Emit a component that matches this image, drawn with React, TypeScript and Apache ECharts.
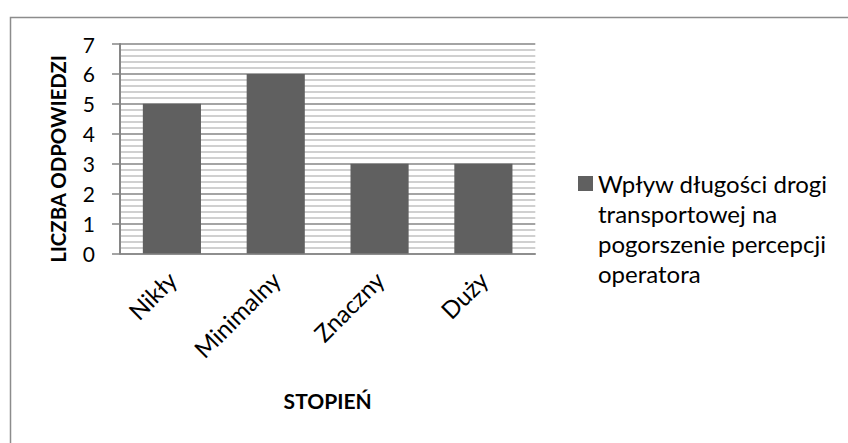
import React, { useEffect, useRef } from "react";
import * as echarts from "echarts";

const categories = ["Nikły", "Minimalny", "Znaczny", "Duży"];
const values = [5, 6, 3, 3];
const yTicks = [0, 1, 2, 3, 4, 5, 6, 7];
const seriesName = "Wpływ długości drogi transportowej na pogorszenie percepcji operatora";
const legendLines = ["Wpływ długości drogi", "transportowej na", "pogorszenie percepcji", "operatora"];
const yTitle = "LICZBA ODPOWIEDZI";
const xTitle = "STOPIEŃ";

const FONT = "Lato";

export default function App() {
  const ref = useRef<HTMLDivElement>(null);
  useEffect(() => {
    if (!ref.current) return;
    const chart = echarts.init(ref.current, undefined, { renderer: "svg" });
    chart.setOption({
      animation: false,
      backgroundColor: "#ffffff",
      textStyle: { fontFamily: FONT },
      grid: { left: 120, top: 44, right: 312.7, bottom: 189.5, containLabel: false },
      graphic: [
        {
          type: "rect",
          left: 8,
          top: 15,
          shape: { width: 860, height: 460 },
          style: { fill: "none", stroke: "#8c8c8c", lineWidth: 1.5 },
          silent: true,
        },
        {
          type: "text",
          x: 57.5,
          y: 159,
          rotation: Math.PI / 2,
          style: {
            text: yTitle,
            fontFamily: FONT,
            fontSize: 20.4,
            fontWeight: "bold",
            fill: "#000",
            align: "center",
            verticalAlign: "middle",
          },
          silent: true,
        },
      ],
      legend: {
        show: true,
        orient: "vertical",
        left: 573,
        top: 73.5,
        itemWidth: 15,
        itemHeight: 15,
        icon: "rect",
        formatter: () => "\n\n\n" + legendLines.join("\n"),
        textStyle: { fontFamily: FONT, fontSize: 24, color: "#000", lineHeight: 30 },
        itemGap: 0,
      },
      xAxis: {
        type: "category",
        data: categories,
        name: xTitle,
        nameLocation: "middle",
        nameGap: 136,
        nameTextStyle: { fontFamily: FONT, fontSize: 21, fontWeight: "bold", color: "#000" },
        axisLine: { show: true, lineStyle: { color: "#868686", width: 1.5 } },
        axisTick: { show: false },
        axisLabel: { rotate: 45, fontSize: 24, color: "#000", margin: 22, fontFamily: FONT },
        splitLine: { show: false },
      },
      yAxis: {
        type: "value",
        min: yTicks[0],
        max: yTicks[yTicks.length - 1],
        interval: 1,
        axisLine: { show: true, lineStyle: { color: "#868686", width: 2 } },
        axisTick: { show: true, inside: false, length: 8, lineStyle: { color: "#868686", width: 1.5 } },
        axisLabel: { fontSize: 21, color: "#000", margin: 25, fontFamily: FONT },
        splitLine: { show: true, lineStyle: { color: "#868686", width: 1.5 } },
        minorTick: { show: false, splitNumber: 5 },
        minorSplitLine: { show: true, lineStyle: { color: "#c0c0c0", width: 1.5 } },
      },
      series: [
        { name: seriesName, type: "bar", data: values, barCategoryGap: "44%", itemStyle: { color: "#606060" } },
      ],
    });
    return () => chart.dispose();
  }, []);
  return <div ref={ref} style={{ position: "absolute", left: 0, top: 0, width: 848, height: 443 }} />;
}
